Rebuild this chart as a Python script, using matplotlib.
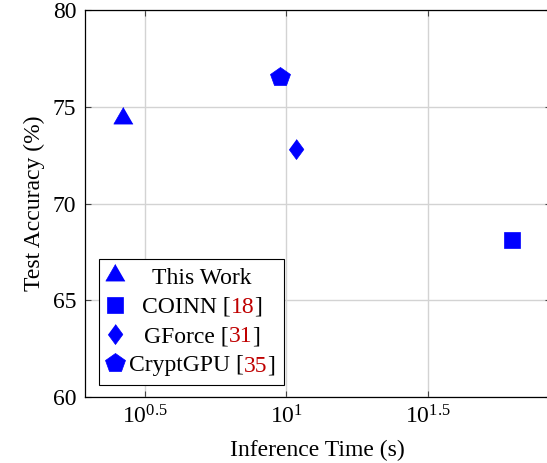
import numpy as np
import matplotlib
matplotlib.use('Agg')
import matplotlib.pyplot as plt
from matplotlib.ticker import FixedLocator, NullLocator
from matplotlib.transforms import IdentityTransform

plt.rcParams['font.family'] = ['Liberation Serif', 'DejaVu Serif']
plt.rcParams['mathtext.fontset'] = 'custom'
plt.rcParams['mathtext.rm'] = 'Liberation Serif'
plt.rcParams['mathtext.it'] = 'Liberation Serif:italic'

# data
names = ['This Work', 'COINN', 'GForce', 'CryptGPU']
refs = ['', '18', '31', '35']
times = [2.66, 62.5, 10.78, 9.51]      # inference time (s)
accs = [74.4, 68.1, 72.82, 76.55]      # test accuracy (%)

xtick_exp = [0.5, 1.0, 1.5]
xtick_labels = ['$10^{0.5}$', '$10^{1}$', '$10^{1.5}$']
yticks = [60, 65, 70, 75, 80]

FS = 17
BLUE = '#0000ff'
REFRED = '#bf0000'

tri = [(0, 1), (-0.866, -0.5), (0.866, -0.5)]
dia = [(0, 1), (0.735, 0), (0, -1), (-0.735, 0)]
styles = [(tri, 16.0), ('s', 11.3), (dia, 14.4), ('p', 14.9)]

fig = plt.figure(figsize=(5.47, 4.63), dpi=100)
W, H = 547, 463
ax = fig.add_axes([84.5 / W, (H - 397.3) / H, 466.1 / W, 387.3 / H])

handles = []
for t, a, (m, ms) in zip(times, accs, styles):
    h, = ax.plot([t], [a], linestyle='none', marker=m, ms=ms,
                 color=BLUE, mec=BLUE, mew=0.5, zorder=3, clip_on=False)
    handles.append(h)

ax.set_xscale('log')
lo = np.log10(min(times)); hi = np.log10(max(times))
pad = 0.1 * (hi - lo)
ax.set_xlim(10 ** (lo - pad), 10 ** (hi + pad))
ax.set_ylim(60, 80)
ax.xaxis.set_major_locator(FixedLocator([10 ** e for e in xtick_exp]))
ax.xaxis.set_minor_locator(NullLocator())
ax.set_xticklabels(xtick_labels)
ax.set_yticks(yticks)

ax.grid(True, color='#d3d3d3', linewidth=1.0)
ax.set_axisbelow(True)
for s in ax.spines.values():
    s.set_linewidth(0.9)
    s.set_color('black')
ax.tick_params(direction='in', length=4.5, width=0.8, color='#444444',
               top=True, right=True, labelsize=FS)
ax.tick_params(axis='x', pad=6)
ax.tick_params(axis='y', pad=6)

ax.set_xlabel('Inference Time (s)', fontsize=FS, labelpad=8)
ax.set_ylabel('Test Accuracy (%)', fontsize=FS, labelpad=5.5)

labels = [n + (' [' + r + ']' if r else '') for n, r in zip(names, refs)]
leg = ax.legend(handles, labels, loc='lower left',
                bbox_to_anchor=((99.4 - 84.5) / 466.1, (397.3 - 385) / 387.3),
                borderaxespad=0, fontsize=FS, fancybox=False, framealpha=1,
                edgecolor='black', borderpad=0.36, handlelength=0.62,
                handletextpad=0.27, labelspacing=0.33, numpoints=1)
leg.get_frame().set_linewidth(0.8)

# redraw legend texts centred, with the reference numbers in red
fig.canvas.draw()
r = fig.canvas.get_renderer()
texts = leg.get_texts()
ws = [t.get_window_extent(r).width for t in texts]
wmax = max(ws)
for t, w, n, ref in zip(texts, ws, names, refs):
    x, y = t.get_transform().transform(t.get_position())
    x += (wmax - w) / 2
    t.set_visible(False)
    parts = [(n, 'black')] if not ref else [(n + ' [', 'black'), (ref, REFRED), (']', 'black')]
    for s, c in parts:
        tt = fig.text(x, y, s, transform=IdentityTransform(), color=c,
                      fontsize=FS, va='baseline', ha='left')
        x += tt.get_window_extent(r).width

fig.savefig('out.png', dpi=100)
